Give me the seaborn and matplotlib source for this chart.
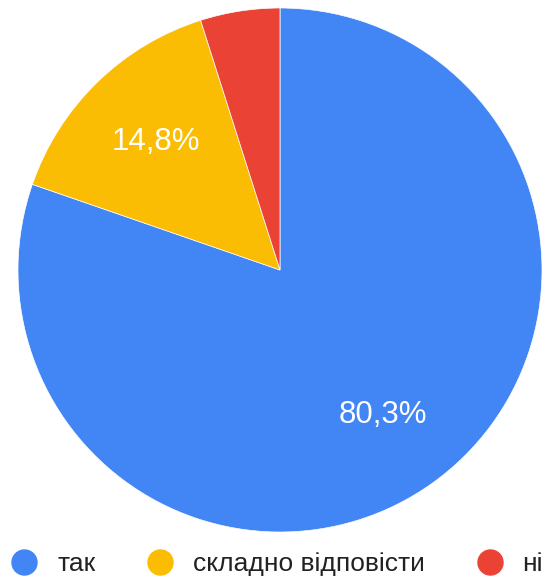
import matplotlib
matplotlib.use("Agg")
import matplotlib.pyplot as plt
import seaborn as sns
from matplotlib.lines import Line2D

# chart data
labels = ["так", "складно відповісти", "ні"]
shares = [80.3, 14.8, 4.9]
colors = ["#4285F4", "#FBBC04", "#EA4335"]

sns.set_theme(style="white")
plt.rcParams["font.family"] = ["Liberation Sans", "DejaVu Sans"]

fig = plt.figure(figsize=(5.54, 5.80), dpi=100)
# pie centre ~ (280, 270) px, radius ~ 262 px
cx, cy, r = 280, 270, 262
ax = fig.add_axes([(cx - r) / 554, (580 - cy - r) / 580, 2 * r / 554, 2 * r / 580])


def fmt_pct(p):
    return f"{p:.1f}%".replace(".", ",") if p > 6 else ""


wedges, texts, autotexts = ax.pie(
    shares,
    colors=colors,
    startangle=90,
    counterclock=False,
    autopct=fmt_pct,
    pctdistance=0.68,
    radius=1,
    wedgeprops={"linewidth": 0.5, "edgecolor": "white"},
    textprops={"color": "white", "fontsize": 22.5},
)
ax.set_xlim(-1, 1)
ax.set_ylim(-1, 1)
ax.set_aspect("equal")
ax.axis("off")

handles = [Line2D([0], [0], marker="o", linestyle="", markersize=18,
                  markerfacecolor=c, markeredgecolor=c) for c in colors]
fig.legend(handles, labels, loc="center", bbox_to_anchor=(0.5, 1 - 564 / 580),
           ncol=3, frameon=False, fontsize=19, handletextpad=0.75,
           columnspacing=1.95, handlelength=1.0, labelcolor="#222222")

fig.savefig("out.png", dpi=100)
